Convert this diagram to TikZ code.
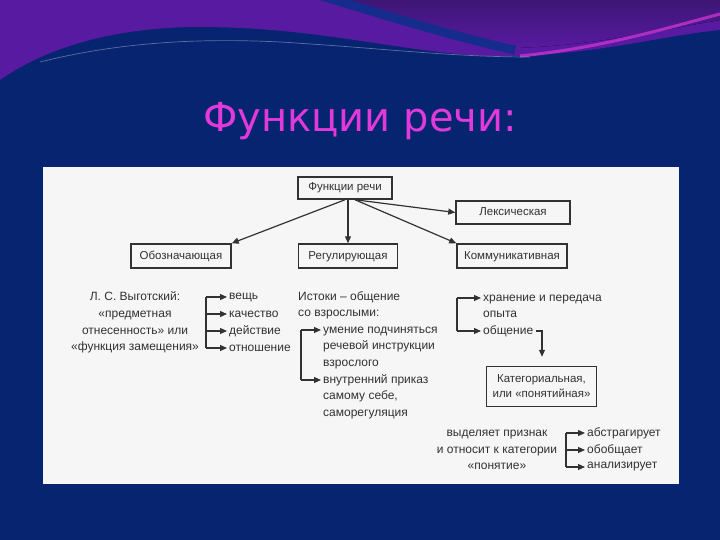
\documentclass[tikz,border=0pt]{standalone}
\usepackage{fontspec}
\setmainfont{Liberation Sans}
\newfontfamily\titlefont{DejaVu Sans}
\newfontfamily\diafont{Liberation Sans}
\usetikzlibrary{arrows.meta,calc}
\definecolor{navy}{RGB}{6,36,112}
\definecolor{purp}{RGB}{88,26,160}
\definecolor{dpurp}{RGB}{62,22,118}
\definecolor{band}{RGB}{22,44,140}
\definecolor{titlec}{RGB}{226,58,218}
\definecolor{panel}{RGB}{246,246,246}
\definecolor{ink}{RGB}{50,50,50}
\newcommand{\fl}{\rule{0pt}{9pt}}
\tikzset{
  box/.style={draw=ink, line width=1.5pt, fill=panel, text=ink, inner sep=2pt,
    font=\diafont\fontsize{11.5}{14}\selectfont},
  sbox/.style={box, text height=8.5pt, text depth=2.5pt},
  txt/.style={text=ink, inner sep=0pt, font=\diafont\fontsize{12}{16.7}\selectfont},
  conn/.style={draw=ink, line width=1.2pt},
  arr/.style={conn, -{Triangle[length=7pt,width=6pt]}},
  arrs/.style={arr, shorten >=2pt}
}
\begin{document}
\begin{tikzpicture}[x=1pt,y=-1pt]
\useasboundingbox (0,0) rectangle (720,540);
% background
\fill[navy] (0,0) rectangle (720,540);
\fill[purp] (0,0) -- (0,80) .. controls (50,45) and (120,27) .. (200,27)
  .. controls (330,27) and (420,58) .. (510,56)
  .. controls (600,54) and (660,36) .. (720,30) -- (720,0) -- cycle;
\fill[top color=dpurp, bottom color=purp] (330,0) .. controls (400,20) and (460,38) .. (515,48)
  .. controls (600,45) and (660,30) .. (720,20) -- (720,0) -- cycle;
\draw[band, line width=9pt] (322,-4) .. controls (400,20) and (460,38) .. (515,50);
\draw[titlec!80!purp, line width=3pt, opacity=0.8] (520,56) .. controls (600,48) and (660,30) .. (720,14);
\draw[white, opacity=0.35, line width=0.7pt] (40,62) .. controls (120,42) and (200,38) .. (280,42)
  .. controls (380,48) and (450,57) .. (530,57);
% title
\node[text=titlec, font=\titlefont\fontsize{40}{48}\selectfont, anchor=base] (title) at (360,132) {Функции речи:};
% panel
\fill[panel] (43,167) rectangle (679,484);
% boxes
\node[sbox, minimum width=94pt, minimum height=22pt] (f) at (345,188) {Функции речи};
\node[sbox, minimum width=114pt, minimum height=23pt] (lex) at (513,212.5) {Лексическая};
\node[sbox, minimum width=100pt, minimum height=24pt] (obo) at (181,256) {Обозначающая};
\node[sbox, minimum width=99pt, minimum height=24pt] (reg) at (348,256) {Регулирующая};
\node[sbox, minimum width=110pt, minimum height=24pt] (kom) at (512,256) {Коммуникативная};
\node[box, minimum width=110pt, minimum height=40pt, align=center, font=\diafont\fontsize{11.5}{15}\selectfont] (kat) at (541.5,386.5) {Категориальная,\\или «понятийная»};
% top arrows
\draw[arr] (f.south) -- (obo.north east);
\draw[arr] (reg.north |- f.south) -- (reg.north);
\draw[arr] ($(f.south)+(10,0)$) -- (lex.west);
\draw[arr] ($(f.south)+(10,0)$) -- (kom.north west);
% left column
\node[txt, align=center] (vyg) at (135,322.5) {Л. С. Выготский:\\«предметная\\отнесенность» или\\«функция замещения»};
\node[txt, anchor=west] (v1) at (229,297) {вещь};
\node[txt, anchor=west] (v2) at (229,314) {качество};
\node[txt, anchor=west] (v3) at (229,331) {действие};
\node[txt, anchor=west] (v4) at (229,348) {отношение};
\coordinate (lb) at (206,297);
\draw[conn] (lb) -- (lb |- v4.west);
\foreach \i in {1,2,3,4} \draw[arrs] (lb |- v\i.west) -- (v\i.west);
% middle column
\node[txt, anchor=north west, align=left] (ist) at (298,291) {\fl Истоки – общение\\со взрослыми:};
\node[txt, anchor=north west, align=left] (m1) at (323,324) {\fl умение подчиняться\\речевой инструкции\\взрослого};
\node[txt, anchor=north west, align=left] (m2) at (323,374) {\fl внутренний приказ\\самому себе,\\саморегуляция};
\coordinate (mb) at (301,330);
\coordinate (m1a) at ($(m1.north west)+(0,6)$);
\coordinate (m2a) at ($(m2.north west)+(0,6)$);
\draw[conn] (mb |- m1a) -- (mb |- m2a);
\draw[arrs] (mb |- m1a) -- (m1a);
\draw[arrs] (mb |- m2a) -- (m2a);
% right column
\node[txt, anchor=north west, align=left] (r1) at (483,292) {\fl хранение и передача\\опыта};
\node[txt, anchor=west] (r2) at (483,331) {общение};
\coordinate (rb) at (457,298);
\coordinate (r1a) at ($(r1.north west)+(0,6)$);
\draw[conn] (rb |- r1a) -- (rb |- r2.west);
\draw[arrs] (rb |- r1a) -- (r1a);
\draw[arrs] (rb |- r2.west) -- (r2.west);
\coordinate (rk) at (542,331);
\draw[arr] ($(r2.east)+(3,0)$) -- (rk) -- ($(kat.north -| rk)+(0,-9)$);
% bottom
\node[txt, align=center] (vyd) at (497,450) {выделяет признак\\и относит к категории\\«понятие»};
\node[txt, anchor=west] (b1) at (587,433) {абстрагирует};
\node[txt, anchor=west] (b2) at (587,450) {обобщает};
\node[txt, anchor=west] (b3) at (587,467) {анализирует};
\coordinate (bb) at (566,433);
\draw[conn] (bb) -- (bb |- b3.west);
\foreach \i in {1,2,3} \draw[arrs] (bb |- b\i.west) -- (b\i.west);
\end{tikzpicture}
\end{document}
